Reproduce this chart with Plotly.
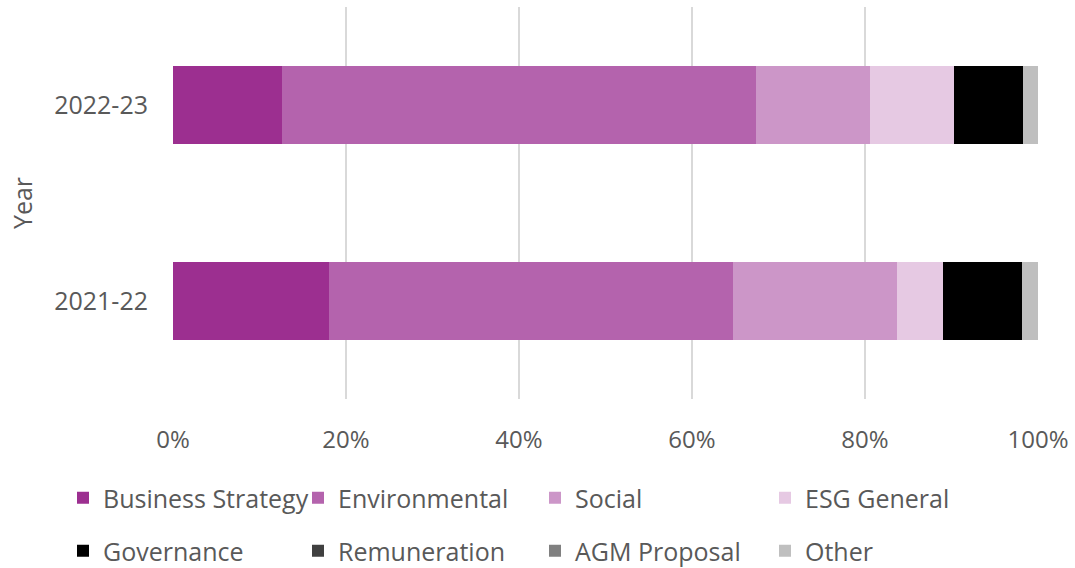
import plotly.graph_objects as go

years = ["2021-22", "2022-23"]
series_names = ["Business Strategy", "Environmental", "Social", "ESG General",
                "Governance", "Remuneration", "AGM Proposal", "Other"]
business_strategy = [18.0, 12.6]
environmental = [46.7, 54.8]
social = [19.0, 13.2]
esg_general = [5.3, 9.7]
governance = [9.2, 8.0]
remuneration = [0.0, 0.0]
agm_proposal = [0.0, 0.0]
other = [1.8, 1.7]
colors = ["#9c2f90", "#b463ad", "#cc96c8", "#e6c9e3",
          "#000000", "#404040", "#808080", "#bfbfbf"]

values = [business_strategy, environmental, social, esg_general,
          governance, remuneration, agm_proposal, other]

font_family = "'Open Sans', sans-serif"
grey = "#595959"

# legend grid: 4 columns x 2 rows (pixel positions in the 1075x568 page)
col_x = [63, 298, 535, 765]
row_y = [498, 551]

fig = go.Figure()
legend_layout = {}
for i, (name, vals, col) in enumerate(zip(series_names, values, colors)):
    lid = "legend" if i == 0 else f"legend{i + 1}"
    fig.add_trace(go.Bar(
        y=years, x=vals, name=name, orientation="h",
        marker=dict(color=col, line=dict(width=0)),
        legend=lid, showlegend=True,
        hovertemplate="%{y}: %{x:.1f}%<extra>" + name + "</extra>",
    ))
    legend_layout[lid] = dict(
        orientation="h", xref="container", yref="container",
        x=col_x[i % 4] / 1075, y=1 - row_y[i // 4] / 568,
        xanchor="left", yanchor="middle",
        font=dict(family=font_family, size=25, color=grey),
        bgcolor="rgba(0,0,0,0)",
    )

fig.update_layout(
    width=1075, height=568,
    showlegend=True,
    barmode="stack", bargap=0.6,
    plot_bgcolor="white", paper_bgcolor="white",
    margin=dict(l=173, r=37, t=7, b=169),
    font=dict(family=font_family, color=grey, size=25),
    xaxis=dict(
        range=[0, 100], tickvals=[0, 20, 40, 60, 80, 100],
        ticktext=["0%", "20%", "40%", "60%", "80%", "100%"],
        showgrid=True, gridcolor="#d9d9d9", gridwidth=1.5,
        zeroline=False, showline=False, ticks="",
        ticklabelstandoff=24,
        tickfont=dict(size=24, color=grey),
    ),
    yaxis=dict(
        type="category", categoryorder="array", categoryarray=years,
        showgrid=False, zeroline=False, showline=False, ticks="",
        ticklabelstandoff=24,
        tickfont=dict(size=25, color=grey),
        title=dict(text="Year", font=dict(size=25, color=grey), standoff=14),
    ),
    **legend_layout,
)

fig.write_html("out.html", config={"displayModeBar": False},
               post_script="document.body.style.margin='0px';")
